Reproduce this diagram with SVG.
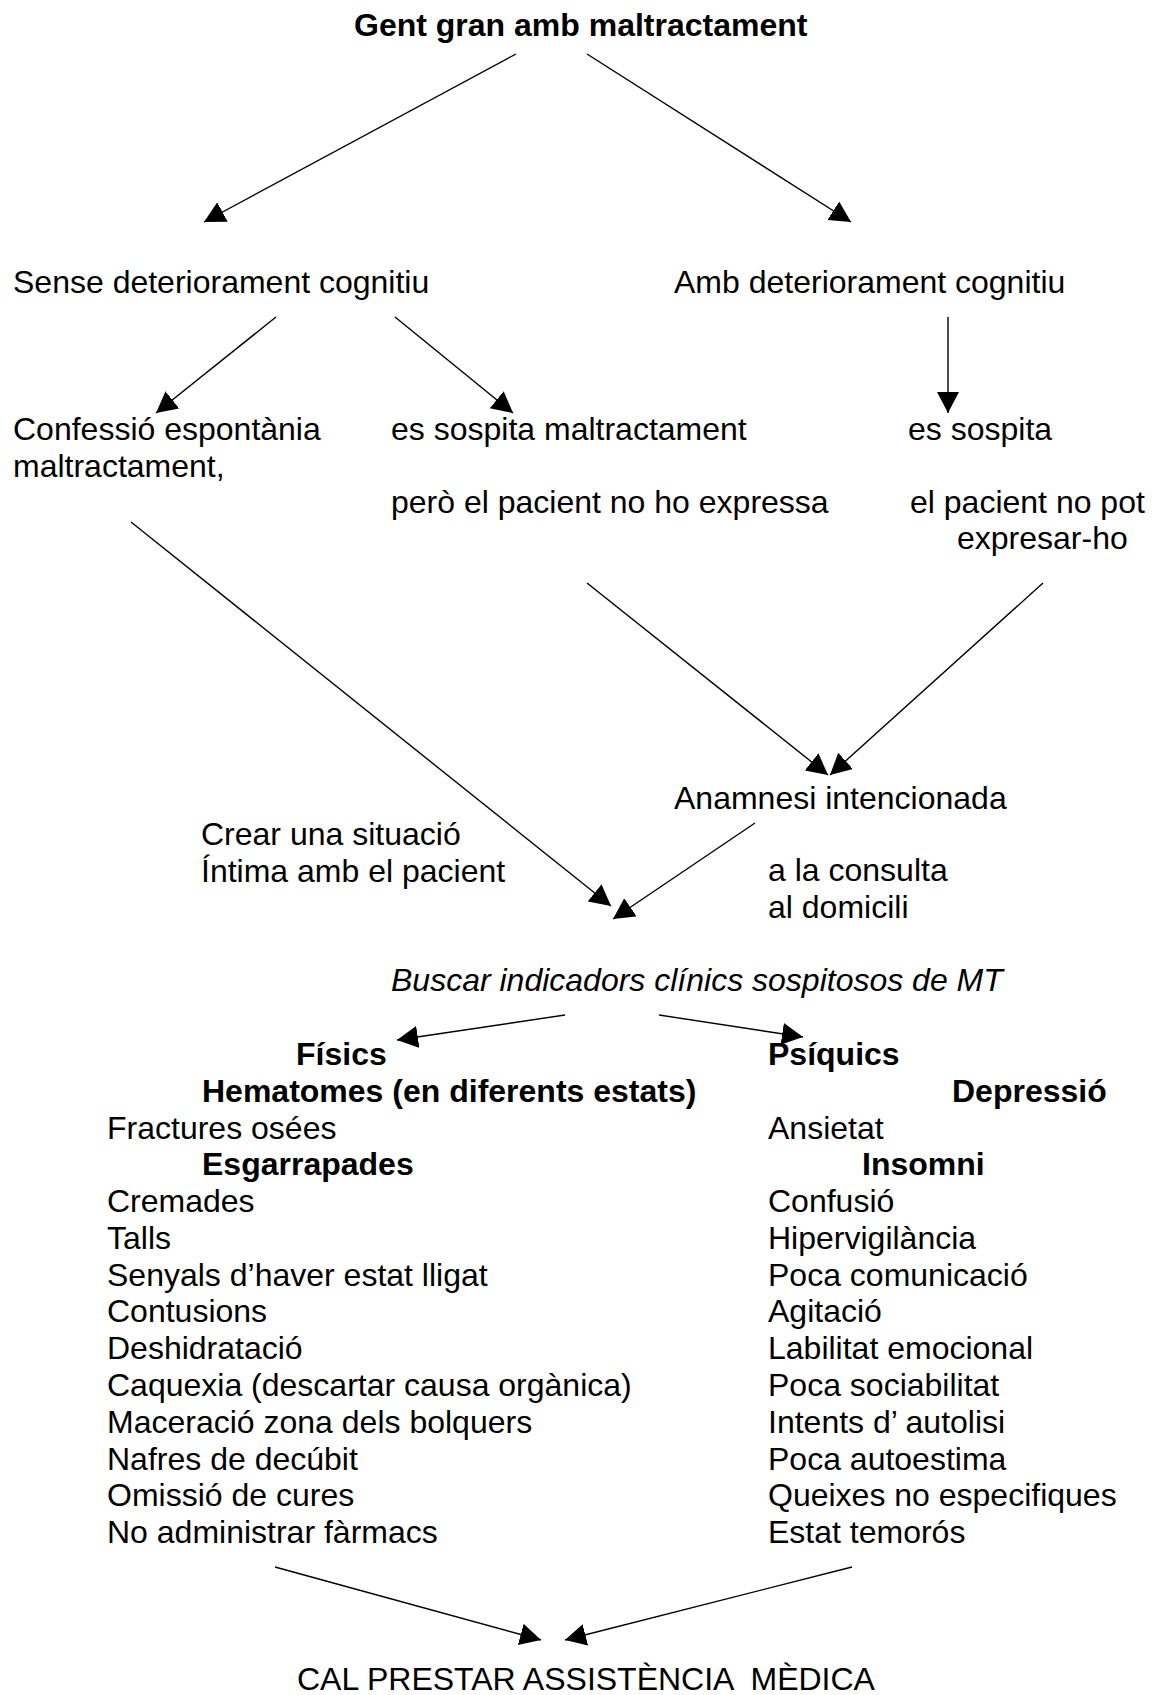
<svg xmlns="http://www.w3.org/2000/svg" width="1155" height="1695" viewBox="0 0 1155 1695">
<defs>
<style>
text{font-family:"Liberation Sans",Arial,sans-serif;font-size:32px;fill:#000;white-space:pre}
.b{font-weight:bold}
.i{font-style:italic}
.c line{stroke:#000;stroke-width:1.4;marker-end:url(#ah)}
</style>
<marker id="ah" markerUnits="userSpaceOnUse" markerWidth="24" markerHeight="24" refX="21" refY="11" orient="auto">
<path d="M0,0 L21,11 L0,22 z" fill="#000"/>
</marker>
</defs>
<rect width="1155" height="1695" fill="#fff"/>
<g class="c" id="connectors">
<line x1="516" y1="54" x2="204" y2="222"/>
<line x1="587" y1="54" x2="851" y2="222"/>
<line x1="276" y1="317" x2="156" y2="413"/>
<line x1="395" y1="317" x2="513" y2="413"/>
<line x1="948" y1="317" x2="948" y2="413"/>
<line x1="131" y1="522" x2="611" y2="906"/>
<line x1="587" y1="583" x2="828" y2="775"/>
<line x1="1043" y1="583" x2="830" y2="775"/>
<line x1="755" y1="823" x2="613" y2="919"/>
<line x1="565" y1="1015" x2="397" y2="1040"/>
<line x1="659" y1="1015" x2="803" y2="1037"/>
<line x1="275" y1="1567" x2="541" y2="1640"/>
<line x1="852" y1="1567" x2="565" y2="1640"/>
</g>
<g id="n-title"><text class="b" x="354" y="36">Gent gran amb maltractament</text></g>
<g id="n-sense"><text x="13" y="293">Sense deteriorament cognitiu</text></g>
<g id="n-amb"><text x="674" y="293">Amb deteriorament cognitiu</text></g>
<g id="n-confessio"><text x="13" y="440">Confessió espontània</text><text x="13" y="477">maltractament,</text></g>
<g id="n-sospita1"><text x="391" y="440">es sospita maltractament</text><text x="391" y="513">però el pacient no ho expressa</text></g>
<g id="n-sospita2"><text x="908" y="440">es sospita</text><text x="910" y="513">el pacient no pot</text><text x="957" y="549">expresar-ho</text></g>
<g id="n-anamnesi"><text x="674" y="809">Anamnesi intencionada</text></g>
<g id="n-crear"><text x="201" y="845">Crear una situació</text><text x="201" y="882">Íntima amb el pacient</text></g>
<g id="n-consulta"><text x="768" y="881">a la consulta</text><text x="768" y="918">al domicili</text></g>
<g id="n-buscar"><text class="i" x="391" y="991">Buscar indicadors clínics sospitosos de MT</text></g>
<g id="n-fisics">
<text class="b" x="296" y="1065">Físics</text>
<text class="b" x="202" y="1102">Hematomes (en diferents estats)</text>
<text x="107" y="1139">Fractures osées</text>
<text class="b" x="202" y="1175">Esgarrapades</text>
<text x="107" y="1212">Cremades</text>
<text x="107" y="1249">Talls</text>
<text x="107" y="1286">Senyals d’haver estat lligat</text>
<text x="107" y="1322">Contusions</text>
<text x="107" y="1359">Deshidratació</text>
<text x="107" y="1396">Caquexia (descartar causa orgànica)</text>
<text x="107" y="1433">Maceració zona dels bolquers</text>
<text x="107" y="1470">Nafres de decúbit</text>
<text x="107" y="1506">Omissió de cures</text>
<text x="107" y="1543">No administrar fàrmacs</text>
</g>
<g id="n-psiquics">
<text class="b" x="768" y="1065">Psíquics</text>
<text class="b" x="952" y="1102">Depressió</text>
<text x="768" y="1139">Ansietat</text>
<text class="b" x="862" y="1175">Insomni</text>
<text x="768" y="1212">Confusió</text>
<text x="768" y="1249">Hipervigilància</text>
<text x="768" y="1286">Poca comunicació</text>
<text x="768" y="1322">Agitació</text>
<text x="768" y="1359">Labilitat emocional</text>
<text x="768" y="1396">Poca sociabilitat</text>
<text x="768" y="1433">Intents d’ autolisi</text>
<text x="768" y="1470">Poca autoestima</text>
<text x="768" y="1506">Queixes no especifiques</text>
<text x="768" y="1543">Estat temorós</text>
</g>
<g id="n-cal"><text x="297" y="1690">CAL PRESTAR ASSISTÈNCIA  MÈDICA</text></g>
</svg>
